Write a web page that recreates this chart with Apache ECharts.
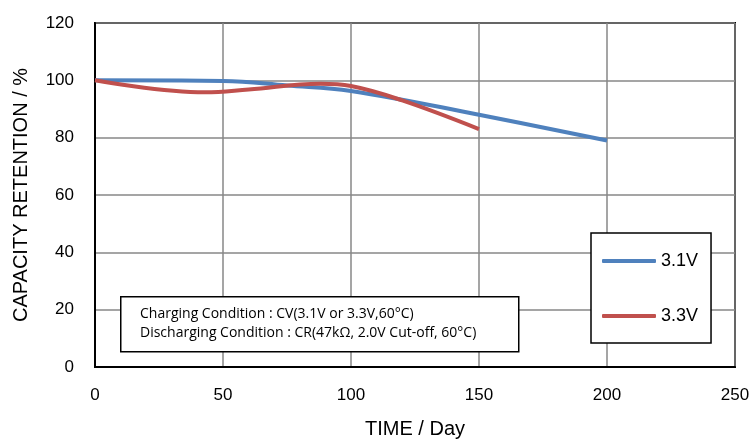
<!DOCTYPE html>
<html>
<head>
<meta charset="utf-8">
<script src="https://cdn.jsdelivr.net/npm/echarts@6/dist/echarts.min.js"></script>
<style>html,body{margin:0;padding:0;background:#fff;}#c{width:755px;height:440px;}</style>
</head>
<body>
<div id="c"></div>
<script>
// Data
const seriesNames = ['3.1V', '3.3V'];
const days31 = [0, 50, 75, 100, 150, 200];
const cap31 = [100, 99.8, 98.2, 96.3, 88, 79];
const days33 = [0, 43, 60, 88, 100, 120, 150];
const cap33 = [100, 95.8, 96.8, 98.8, 98, 93, 83];
const xTicks = [0, 50, 100, 150, 200, 250];
const yTicks = [0, 20, 40, 60, 80, 100, 120];
const noteLines = ['Charging Condition : CV(3.1V or 3.3V,60°C)', 'Discharging Condition : CR(47kΩ, 2.0V Cut-off, 60°C)'];

const FONT = '"Liberation Sans", Arial, sans-serif';
const NOTE_FONT = '"Open Sans", "Liberation Sans", sans-serif';
const chart = echarts.init(document.getElementById('c'));
chart.setOption({
  animation: false,
  backgroundColor: '#fff',
  textStyle: { fontFamily: FONT },
  grid: { left: 95, top: 23, right: 20, bottom: 73, show: true, borderColor: '#000', borderWidth: 2,
          containLabel: false, outerBoundsMode: 'none' },
  xAxis: {
    type: 'value', min: xTicks[0], max: xTicks[xTicks.length - 1], interval: 50,
    name: 'TIME / Day', nameLocation: 'middle', nameGap: 52,
    nameTextStyle: { fontSize: 20, color: '#000', fontFamily: FONT },
    axisLine: { show: true, lineStyle: { color: '#000', width: 2 } },
    axisTick: { show: false },
    axisLabel: { fontSize: 17, color: '#000', margin: 20, fontFamily: FONT },
    splitLine: { show: true, lineStyle: { color: '#878787', width: 1.5 } }
  },
  yAxis: {
    type: 'value', min: yTicks[0], max: yTicks[yTicks.length - 1], interval: 20,
    name: 'CAPACITY RETENTION / %', nameLocation: 'middle', nameGap: 64,
    nameTextStyle: { fontSize: 20, color: '#000', fontFamily: FONT },
    axisLine: { show: true, lineStyle: { color: '#000', width: 2 } },
    axisTick: { show: false },
    axisLabel: { fontSize: 17, color: '#000', margin: 21, fontFamily: FONT },
    splitLine: { show: true, lineStyle: { color: '#878787', width: 1.5 } }
  },
  legend: {
    orient: 'vertical', left: 591, top: 233,
    padding: [19, 13, 18, 11], itemGap: 37,
    itemWidth: 54, itemHeight: 4, icon: 'roundRect',
    backgroundColor: '#fff', borderColor: '#000', borderWidth: 1.5,
    textStyle: { fontSize: 18, color: '#000', fontFamily: FONT },
    data: seriesNames
  },
  series: [
    { name: seriesNames[0], type: 'line', smooth: 0.4, symbol: 'none',
      lineStyle: { color: '#4F81BD', width: 4 }, itemStyle: { color: '#4F81BD' },
      data: days31.map((d, i) => [d, cap31[i]]), z: 3 },
    { name: seriesNames[1], type: 'line', smooth: 0.4, symbol: 'none',
      lineStyle: { color: '#C0504D', width: 4 }, itemStyle: { color: '#C0504D' },
      data: days33.map((d, i) => [d, cap33[i]]), z: 4 }
  ],
  graphic: [
    { type: 'rect', left: 120, top: 296, z: 100,
      shape: { width: 398, height: 55 },
      style: { fill: '#fff', stroke: '#000', lineWidth: 1.5 } },
    { type: 'text', left: 140, top: 307, z: 101,
      style: { text: noteLines[0], font: '14px ' + NOTE_FONT, fill: '#000' } },
    { type: 'text', left: 140, top: 326, z: 101,
      style: { text: noteLines[1], font: '14px ' + NOTE_FONT, fill: '#000' } }
  ]
});
</script>
</body>
</html>
